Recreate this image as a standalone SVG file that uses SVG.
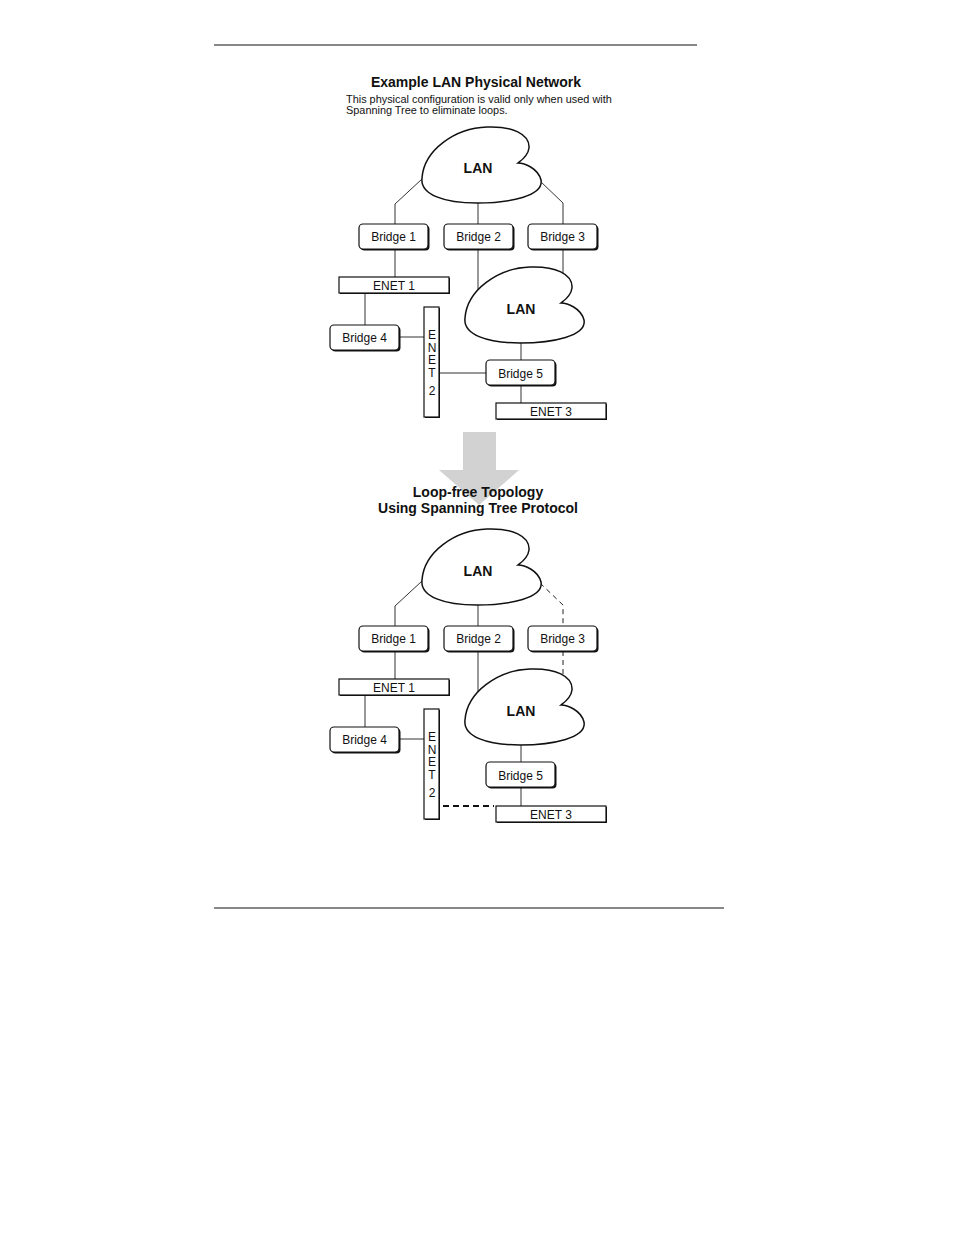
<svg xmlns="http://www.w3.org/2000/svg" xmlns:xlink="http://www.w3.org/1999/xlink" width="954" height="1235" viewBox="0 0 954 1235">
<style>
.t{font-family:"Liberation Sans",Arial,sans-serif;fill:#111}
.title{font-size:14px;font-weight:bold;text-anchor:middle}
.sub{font-size:10.9px}
.lbl{font-size:12px;text-anchor:middle}
.lan{font-size:14px;font-weight:bold;text-anchor:middle}
.ln{stroke:#333;stroke-width:1;fill:none}
.dash{stroke:#222;stroke-width:1;fill:none;stroke-dasharray:5,4}
.hdash{stroke:#111;stroke-width:2;fill:none;stroke-dasharray:6,4}
.box{fill:#fff;stroke:#111;stroke-width:1.2}
.shadow{fill:#111}
.cloud{fill:#fff;stroke:#111;stroke-width:1.5}
</style>
<defs>
<path id="cloudShape" d="M 422,178 C 424,150 455,128 487,127 C 512,126 530,134 529,148 C 528,156 522,160 518,163 C 524,163 538,168 541,180 C 544,196 510,203 477,203 C 445,203 420,195 422,178 Z"/>
</defs>
<rect width="954" height="1235" fill="#fff"/>
<line x1="214" y1="45" x2="697" y2="45" stroke="#111" stroke-width="1"/>
<line x1="214" y1="908" x2="724" y2="908" stroke="#111" stroke-width="1"/>

<g id="arrow">
<polygon points="463,432 496,432 496,470 519,470 479,505 439,470 463,470" fill="#d2d2d2"/>
</g>

<g id="titles">
<text class="t title" x="476" y="86.5">Example LAN Physical Network</text>
<text class="t sub" x="346" y="102.5">This physical configuration is valid only when used with</text>
<text class="t sub" x="346" y="114">Spanning Tree to eliminate loops.</text>
<text class="t title" x="478" y="497">Loop-free Topology</text>
<text class="t title" x="478" y="513">Using Spanning Tree Protocol</text>
</g>

<!-- Connectors -->
<g id="connectors">
<!-- top diagram -->
<polyline class="ln" points="422,179 395,204 395,224"/>
<line class="ln" x1="478" y1="203" x2="478" y2="224"/>
<polyline class="ln" points="540,181 563,203 563,224"/>
<line class="ln" x1="395" y1="249" x2="395" y2="277"/>
<line class="ln" x1="478" y1="249" x2="478" y2="292"/>
<line class="ln" x1="563" y1="249" x2="563" y2="276"/>
<line class="ln" x1="365" y1="293" x2="365" y2="325"/>
<line class="ln" x1="400" y1="337" x2="424" y2="337"/>
<line class="ln" x1="521" y1="343" x2="521" y2="360"/>
<line class="ln" x1="439" y1="373" x2="486" y2="373"/>
<line class="ln" x1="521" y1="386" x2="521" y2="403"/>
<!-- bottom diagram -->
<polyline class="ln" points="422,581 395,606 395,626"/>
<line class="ln" x1="478" y1="605" x2="478" y2="626"/>
<polyline class="dash" points="540,583 563,605 563,626"/>
<line class="ln" x1="395" y1="651" x2="395" y2="679"/>
<line class="ln" x1="478" y1="651" x2="478" y2="694"/>
<line class="dash" x1="563" y1="651" x2="563" y2="678"/>
<line class="ln" x1="365" y1="695" x2="365" y2="727"/>
<line class="ln" x1="400" y1="739" x2="424" y2="739"/>
<line class="ln" x1="521" y1="745" x2="521" y2="762"/>
<line class="ln" x1="521" y1="788" x2="521" y2="806"/>
<line class="hdash" x1="443" y1="806" x2="494" y2="806"/>
</g>

<!-- Top diagram nodes -->
<g id="lan-a1">
<use xlink:href="#cloudShape" class="cloud"/>
<text class="t lan" x="478" y="172.5">LAN</text>
</g>
<g id="bridge1-a">
<rect class="shadow" x="360.5" y="225.5" width="69" height="25" rx="4"/>
<rect class="box" x="359" y="224" width="69" height="25" rx="4"/>
<text class="t lbl" x="393.5" y="240.5">Bridge 1</text>
</g>
<g id="bridge2-a">
<rect class="shadow" x="445.5" y="225.5" width="69" height="25" rx="4"/>
<rect class="box" x="444" y="224" width="69" height="25" rx="4"/>
<text class="t lbl" x="478.5" y="240.5">Bridge 2</text>
</g>
<g id="bridge3-a">
<rect class="shadow" x="529.5" y="225.5" width="69" height="25" rx="4"/>
<rect class="box" x="528" y="224" width="69" height="25" rx="4"/>
<text class="t lbl" x="562.5" y="240.5">Bridge 3</text>
</g>
<g id="enet1-a">
<rect class="shadow" x="340" y="278" width="110" height="16"/>
<rect class="box" x="339" y="277" width="110" height="16"/>
<text class="t lbl" x="394" y="289.5">ENET 1</text>
</g>
<g id="lan-a2">
<use xlink:href="#cloudShape" class="cloud" transform="translate(43,140)"/>
<text class="t lan" x="521" y="314">LAN</text>
</g>
<g id="bridge4-a">
<rect class="shadow" x="331.5" y="326.5" width="69" height="25" rx="4"/>
<rect class="box" x="330" y="325" width="69" height="25" rx="4"/>
<text class="t lbl" x="364.5" y="342">Bridge 4</text>
</g>
<g id="enet2-a">
<rect class="shadow" x="425" y="308" width="15" height="110"/>
<rect class="box" x="424" y="307" width="15" height="110"/>
<text class="t lbl" x="432" y="339">E</text>
<text class="t lbl" x="432" y="351.5">N</text>
<text class="t lbl" x="432" y="364">E</text>
<text class="t lbl" x="432" y="377">T</text>
<text class="t lbl" x="432" y="395">2</text>
</g>
<g id="bridge5-a">
<rect class="shadow" x="487.5" y="361.5" width="69" height="25" rx="4"/>
<rect class="box" x="486" y="360" width="69" height="25" rx="4"/>
<text class="t lbl" x="520.5" y="377.5">Bridge 5</text>
</g>
<g id="enet3-a">
<rect class="shadow" x="497" y="404" width="110" height="16"/>
<rect class="box" x="496" y="403" width="110" height="16"/>
<text class="t lbl" x="551" y="415.5">ENET 3</text>
</g>

<!-- Bottom diagram nodes -->
<g id="lan-b1">
<use xlink:href="#cloudShape" class="cloud" transform="translate(0,402)"/>
<text class="t lan" x="478" y="576">LAN</text>
</g>
<g id="bridge1-b">
<rect class="shadow" x="360.5" y="627.5" width="69" height="25" rx="4"/>
<rect class="box" x="359" y="626" width="69" height="25" rx="4"/>
<text class="t lbl" x="393.5" y="642.5">Bridge 1</text>
</g>
<g id="bridge2-b">
<rect class="shadow" x="445.5" y="627.5" width="69" height="25" rx="4"/>
<rect class="box" x="444" y="626" width="69" height="25" rx="4"/>
<text class="t lbl" x="478.5" y="642.5">Bridge 2</text>
</g>
<g id="bridge3-b">
<rect class="shadow" x="529.5" y="627.5" width="69" height="25" rx="4"/>
<rect class="box" x="528" y="626" width="69" height="25" rx="4"/>
<text class="t lbl" x="562.5" y="642.5">Bridge 3</text>
</g>
<g id="enet1-b">
<rect class="shadow" x="340" y="680" width="110" height="16"/>
<rect class="box" x="339" y="679" width="110" height="16"/>
<text class="t lbl" x="394" y="691.5">ENET 1</text>
</g>
<g id="lan-b2">
<use xlink:href="#cloudShape" class="cloud" transform="translate(43,542)"/>
<text class="t lan" x="521" y="716">LAN</text>
</g>
<g id="bridge4-b">
<rect class="shadow" x="331.5" y="728.5" width="69" height="25" rx="4"/>
<rect class="box" x="330" y="727" width="69" height="25" rx="4"/>
<text class="t lbl" x="364.5" y="744">Bridge 4</text>
</g>
<g id="enet2-b">
<rect class="shadow" x="425" y="710" width="15" height="110"/>
<rect class="box" x="424" y="709" width="15" height="110"/>
<text class="t lbl" x="432" y="741">E</text>
<text class="t lbl" x="432" y="753.5">N</text>
<text class="t lbl" x="432" y="766">E</text>
<text class="t lbl" x="432" y="779">T</text>
<text class="t lbl" x="432" y="797">2</text>
</g>
<g id="bridge5-b">
<rect class="shadow" x="487.5" y="763.5" width="69" height="25" rx="4"/>
<rect class="box" x="486" y="762" width="69" height="25" rx="4"/>
<text class="t lbl" x="520.5" y="779.5">Bridge 5</text>
</g>
<g id="enet3-b">
<rect class="shadow" x="497" y="807" width="110" height="16"/>
<rect class="box" x="496" y="806" width="110" height="16"/>
<text class="t lbl" x="551" y="818.5">ENET 3</text>
</g>
</svg>
